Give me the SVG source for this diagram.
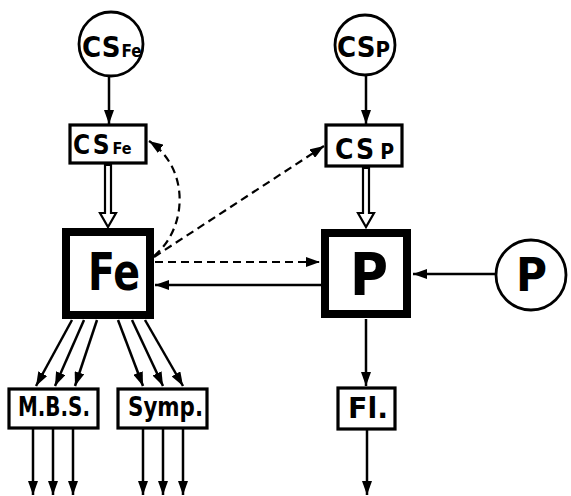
<svg xmlns="http://www.w3.org/2000/svg" width="571" height="496" viewBox="0 0 571 496">
  <defs>
    <marker id="head" viewBox="0 0 14 10" refX="14" refY="5" markerWidth="14" markerHeight="10" markerUnits="userSpaceOnUse" orient="auto">
      <path d="M0,0 L14,5 L0,10 Z" fill="#000"/>
    </marker>
  </defs>
  <style>
    .lbl { font-family: "DejaVu Sans Condensed", "DejaVu Sans", "Liberation Sans", sans-serif; font-stretch: condensed; font-weight: bold; fill: #000; }
    .thin { fill: #fff; stroke: #000; stroke-width: 3.2; }
    .thick { fill: #fff; stroke: #000; stroke-width: 8; }
    .src { fill: #fff; stroke: #000; stroke-width: 2.8; }
    .arr { fill: none; stroke: #000; stroke-width: 2.5; marker-end: url(#head); }
    .dash { fill: none; stroke: #000; stroke-width: 2.2; stroke-dasharray: 8 5; marker-end: url(#head); }
    .hollow { fill: #fff; stroke: #000; stroke-width: 2.2; stroke-linejoin: miter; }
  </style>
  <rect width="571" height="496" fill="#fff"/>

  <!-- connectors -->
  <g id="connectors">
    <line class="arr" x1="109" y1="77" x2="109" y2="124"/>
    <line class="arr" x1="366" y1="76" x2="366" y2="124"/>
    <!-- hollow transfer arrows -->
    <path class="hollow" d="M105,165 L111,165 L111,213 L116,213 L108,227 L100,213 L105,213 Z"/>
    <path class="hollow" d="M363,168 L369,168 L369,213 L374,213 L366,227 L358,213 L363,213 Z"/>
    <!-- dashed feedbacks from Fe -->
    <path class="dash" d="M154,256 C188,228 190,168 149,141"/>
    <line class="dash" x1="154" y1="257" x2="324" y2="146"/>
    <line class="dash" x1="155" y1="262" x2="320" y2="262"/>
    <!-- P to Fe -->
    <line class="arr" x1="322" y1="285" x2="155" y2="285"/>
    <!-- P source to P -->
    <line class="arr" x1="495" y1="274" x2="413" y2="274"/>
    <!-- Fe outputs -->
    <line class="arr" x1="72" y1="320" x2="36" y2="386"/>
    <line class="arr" x1="84" y1="320" x2="55" y2="386"/>
    <line class="arr" x1="97" y1="320" x2="75" y2="386"/>
    <line class="arr" x1="118" y1="320" x2="143" y2="386"/>
    <line class="arr" x1="132" y1="320" x2="163" y2="386"/>
    <line class="arr" x1="145" y1="320" x2="183" y2="386"/>
    <!-- P to Fl. -->
    <line class="arr" x1="366" y1="319" x2="366" y2="386"/>
    <!-- downstream outputs -->
    <line class="arr" x1="33" y1="429" x2="33" y2="495"/>
    <line class="arr" x1="53" y1="429" x2="53" y2="495"/>
    <line class="arr" x1="73" y1="429" x2="73" y2="495"/>
    <line class="arr" x1="143" y1="429" x2="143" y2="495"/>
    <line class="arr" x1="163" y1="429" x2="163" y2="495"/>
    <line class="arr" x1="183" y1="429" x2="183" y2="495"/>
    <line class="arr" x1="367" y1="430" x2="367" y2="495"/>
  </g>

  <g id="csfe-source">
    <circle class="src" cx="111" cy="44" r="32"/>
    <text class="lbl" x="82" y="57" font-size="29">CS<tspan font-size="17" dx="1">Fe</tspan></text>
  </g>

  <g id="csfe-store">
    <rect class="thin" x="70" y="125" width="76" height="38"/>
    <text class="lbl" x="73" y="154" font-size="26" letter-spacing="2">CS<tspan font-size="16" dx="1" letter-spacing="0">Fe</tspan></text>
  </g>

  <g id="fe">
    <rect class="thick" x="66" y="232" width="84" height="83"/>
    <text class="lbl" x="88" y="290" font-size="51" textLength="52" lengthAdjust="spacingAndGlyphs">Fe</text>
  </g>

  <g id="csp-source">
    <circle class="src" cx="365" cy="45" r="30"/>
    <text class="lbl" x="337" y="57" font-size="29">CS<tspan font-size="22" dx="0">P</tspan></text>
  </g>

  <g id="csp-store">
    <rect class="thin" x="326" y="125" width="76" height="41"/>
    <text class="lbl" x="335" y="159" font-size="28" letter-spacing="2">CS<tspan font-size="21" dx="4" letter-spacing="0">P</tspan></text>
  </g>

  <g id="p">
    <rect class="thick" x="325" y="233" width="82" height="81"/>
    <text class="lbl" x="350" y="295" font-size="58" textLength="38" lengthAdjust="spacingAndGlyphs">P</text>
  </g>

  <g id="p-source">
    <circle class="src" cx="531" cy="275" r="35"/>
    <text class="lbl" x="516" y="291" font-size="46" textLength="31" lengthAdjust="spacingAndGlyphs">P</text>
  </g>

  <g id="mbs">
    <rect class="thin" x="9" y="389" width="89" height="39"/>
    <text class="lbl" x="18" y="416" font-size="27" textLength="72" lengthAdjust="spacingAndGlyphs">M.B.S.</text>
  </g>

  <g id="symp">
    <rect class="thin" x="118" y="389" width="89" height="39"/>
    <text class="lbl" x="128" y="416" font-size="27" textLength="75" lengthAdjust="spacingAndGlyphs">Symp.</text>
  </g>

  <g id="fl">
    <rect class="thin" x="338" y="388" width="57" height="41"/>
    <text class="lbl" x="348" y="418" font-size="28" textLength="40" lengthAdjust="spacingAndGlyphs">Fl.</text>
  </g>
</svg>
